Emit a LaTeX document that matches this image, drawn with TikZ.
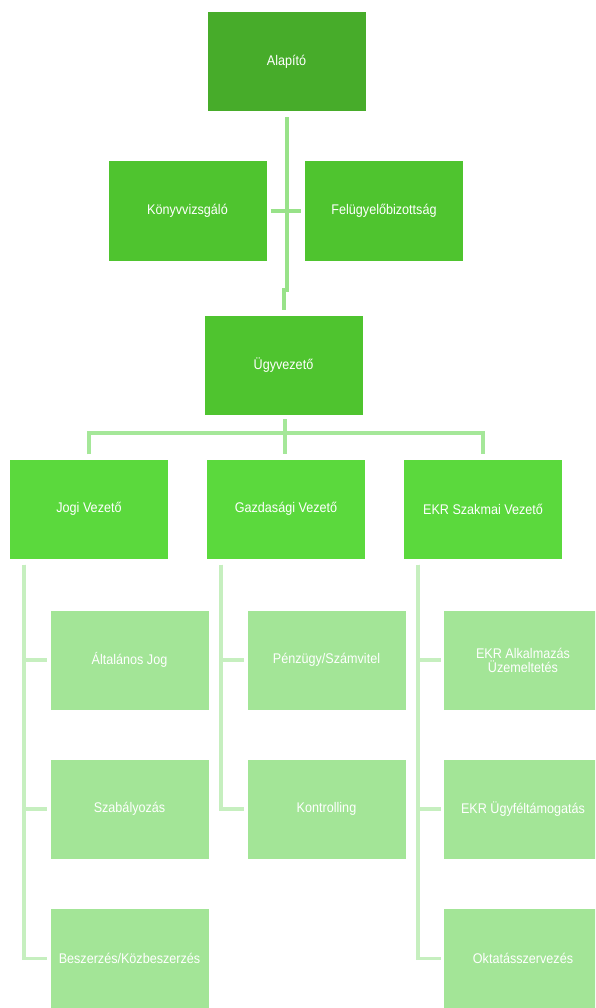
\documentclass[tikz,border=0pt]{standalone}
\usepackage{fontspec}
\setmainfont[FakeStretch=0.9]{Liberation Sans}
\usetikzlibrary{positioning}
\definecolor{darkgr}{HTML}{47AC2A}
\definecolor{midgr}{HTML}{4FC42F}
\definecolor{brightgr}{HTML}{5BD93D}
\definecolor{palegr}{HTML}{A3E597}
\definecolor{linegr}{HTML}{A5E799}
\definecolor{faintgr}{HTML}{C6EFBF}

\begin{document}
\begin{tikzpicture}[x=1pt,y=-1pt,
  box/.style={rectangle,minimum width=158pt,minimum height=99pt,inner sep=2pt,
    text=white,align=center,font=\fontsize{14}{14}\selectfont},
  topline/.style={draw=linegr!85!midgr,line width=3.5pt},
  busline/.style={draw=linegr,line width=3.5pt},
  subline/.style={draw=faintgr,line width=3.5pt}]
\useasboundingbox (0,0) rectangle (595,1008);
\clip (0,0) rectangle (595,1008);
% top
\node[box,fill=darkgr] (alapito) at (286.5,61.5) {Alapító};
\node[box,fill=midgr] (konyv) at (187.5,211) {Könyvvizsgáló};
\node[box,fill=midgr] (felugy) at (384,211) {Felügyelőbizottság};
\node[box,fill=midgr] (ugyv) at (283.5,365.5) {Ügyvezető};
% vezetok
\node[box,fill=brightgr] (jogi) at (89,509) {Jogi Vezető};
\node[box,fill=brightgr] (gazd) at (286,509) {Gazdasági Vezető};
\node[box,fill=brightgr] (ekr) at (483,509) {EKR Szakmai Vezető};
% osztalyok
\node[box,fill=palegr] (jog1) at (129.5,660) {Általános Jog};
\node[box,fill=palegr] (jog2) at (129.5,809) {Szabályozás};
\node[box,fill=palegr] (jog3) at (129.5,958.5) {Beszerzés/Közbeszerzés};
\node[box,fill=palegr] (gaz1) at (326.5,660) {Pénzügy/Számvitel};
\node[box,fill=palegr] (gaz2) at (326.5,809) {Kontrolling};
\node[box,fill=palegr] (ekr1) at (523,660) {EKR Alkalmazás\\Üzemeltetés};
\node[box,fill=palegr] (ekr2) at (523,809) {EKR Ügyféltámogatás};
\node[box,fill=palegr] (ekr3) at (523,958.5) {Oktatásszervezés};

\coordinate (bend) at (287,290);
\coordinate (bend2) at (284,290);
\coordinate (bus) at (285,433);
\draw[topline] ([yshift=-6pt]bend |- alapito.south) -- (bend) -- (bend2) -- ([yshift=6pt]bend2 |- ugyv.north);
\draw[topline] ([xshift=4pt]konyv.east) -- ([xshift=-4pt]felugy.west);
\draw[busline] ([yshift=-4pt]bus |- ugyv.south) -- (bus);
\draw[busline] ([yshift=5pt]jogi.north) |- (bus) -| ([yshift=5pt]ekr.north);
\draw[busline] (bus) -- ([yshift=5pt]bus |- gazd.north);
\foreach \c in {jog1,jog2,jog3}
  \draw[subline] ([xshift=14pt,yshift=-6pt]jogi.south west) |- ([xshift=-3pt]\c.west);
\foreach \c in {gaz1,gaz2}
  \draw[subline] ([xshift=14pt,yshift=-6pt]gazd.south west) |- ([xshift=-3pt]\c.west);
\foreach \c in {ekr1,ekr2,ekr3}
  \draw[subline] ([xshift=14pt,yshift=-6pt]ekr.south west) |- ([xshift=-3pt]\c.west);
\end{tikzpicture}
\end{document}
